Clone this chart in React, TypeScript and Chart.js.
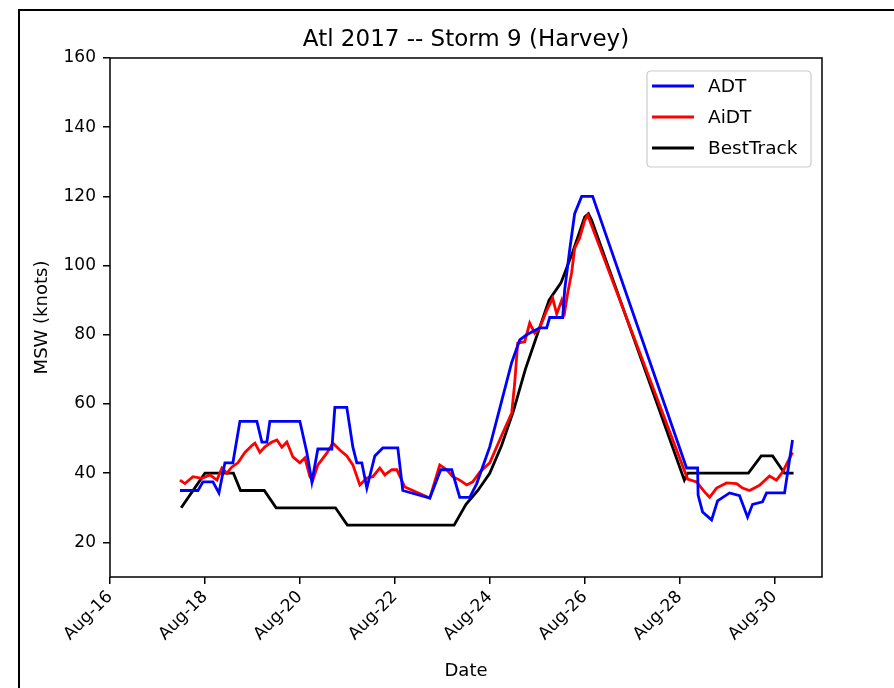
import React, { useEffect, useRef } from "react";
import { Chart, registerables } from "chart.js";

Chart.register(...registerables);

// x values are days since Aug-16 00Z
const xTickDays = [0, 2, 4, 6, 8, 10, 12, 14];
const yTickValues = [20, 40, 60, 80, 100, 120, 140, 160];
const seriesNames = ["ADT", "AiDT", "BestTrack"];

const adtDays = [1.474, 1.853, 1.958, 2.168, 2.295, 2.421, 2.589, 2.737, 3.095, 3.2, 3.305, 3.368, 4.0, 4.147, 4.253, 4.379, 4.674, 4.737, 4.989, 5.116, 5.2, 5.305, 5.411, 5.579, 5.747, 6.063, 6.168, 6.737, 6.968, 7.2, 7.368, 7.579, 7.726, 8.0, 8.463, 8.632, 8.779, 9.053, 9.2, 9.263, 9.537, 9.579, 9.684, 9.789, 9.937, 10.168, 12.147, 12.379, 12.39, 12.484, 12.674, 12.8, 13.053, 13.263, 13.432, 13.537, 13.747, 13.832, 14.211, 14.379];
const adtValues = [35, 35, 37.5, 37.5, 34.3, 43, 43, 55, 55, 49, 49, 55, 55, 46, 37.5, 47, 47, 59, 59, 47.6, 43, 43, 35.7, 45, 47.3, 47.3, 35, 32.8, 41, 41, 33, 33, 37, 47.6, 72, 78.5, 80, 82, 82, 85, 85, 93, 104.5, 115, 120, 120, 41.5, 41.5, 33.7, 28.8, 26.5, 32, 34.3, 33.5, 27.3, 31, 31.7, 34.3, 34.3, 49.6];

const aidtDays = [1.474, 1.579, 1.747, 1.937, 2.105, 2.253, 2.358, 2.463, 2.568, 2.695, 2.842, 2.989, 3.053, 3.158, 3.263, 3.411, 3.516, 3.621, 3.726, 3.853, 4.0, 4.105, 4.211, 4.274, 4.379, 4.568, 4.695, 4.842, 4.989, 5.116, 5.263, 5.411, 5.537, 5.684, 5.789, 5.937, 6.042, 6.211, 6.379, 6.737, 6.947, 7.095, 7.221, 7.368, 7.516, 7.642, 7.789, 8.0, 8.274, 8.463, 8.526, 8.589, 8.737, 8.842, 8.947, 9.053, 9.2, 9.326, 9.411, 9.516, 9.579, 9.642, 9.726, 9.789, 9.895, 10.0, 10.063, 12.168, 12.358, 12.526, 12.632, 12.779, 12.989, 13.2, 13.326, 13.474, 13.684, 13.895, 14.042, 14.168, 14.379];
const aidtValues = [38, 37, 39, 38.5, 39.5, 38, 41.5, 40, 41.8, 43, 46, 48, 48.7, 46, 47.6, 49, 49.6, 47.5, 49, 44.7, 43, 44.4, 39, 38, 42.4, 45.8, 48.7, 46.7, 45, 42.4, 36.6, 38.6, 39, 41.5, 39.5, 41, 41, 36, 35, 32.8, 42.4, 41, 39, 38, 36.6, 37.5, 40.3, 43, 51.6, 57.4, 66, 77.6, 78, 83.4, 80.5, 82, 87, 90.6, 86, 90, 86.6, 92, 98, 105, 108, 113, 114.6, 38.3, 37.5, 34.6, 33, 35.7, 37.2, 37, 35.7, 35, 36.5, 39.2, 38, 40.3, 46];

const bestDays = [1.5, 2.0, 2.6, 2.75, 3.25, 3.5, 4.75, 5.0, 7.25, 7.5, 7.75, 8.0, 8.25, 8.5, 8.75, 9.0, 9.25, 9.5, 9.75, 10.0, 10.08, 10.15, 12.1, 12.17, 13.45, 13.72, 13.96, 14.21, 14.4];
const bestValues = [30, 40, 40, 35, 35, 30, 30, 25, 25, 31, 35, 40, 48, 58, 70, 80, 90, 95, 104, 114, 115, 113, 38, 40, 40, 45, 45, 40, 40];

const seriesColors = ["#0000ff", "#ff0000", "#000000"];

const toPoints = (xs: number[], ys: number[]) => xs.map((x, i) => ({ x, y: ys[i] }));

const FONT = "'DejaVu Sans', sans-serif";

const decorPlugin = {
  id: "decor",
  afterDraw(chart: any) {
    const { ctx, chartArea } = chart;
    const { left, right, top, bottom } = chartArea;
    ctx.save();
    // axes box
    ctx.strokeStyle = "#000";
    ctx.lineWidth = 1.5;
    ctx.strokeRect(left, top, right - left, bottom - top);
    // title
    ctx.fillStyle = "#000";
    ctx.font = `23px ${FONT}`;
    ctx.textAlign = "center";
    ctx.textBaseline = "middle";
    ctx.fillText("Atl 2017 -- Storm 9 (Harvey)", (left + right) / 2, 40);
    // axis labels
    ctx.font = `18px ${FONT}`;
    ctx.fillText("Date", (left + right) / 2, 671);
    ctx.save();
    ctx.translate(42, (top + bottom) / 2);
    ctx.rotate(-Math.PI / 2);
    ctx.fillText("MSW (knots)", 0, 0);
    ctx.restore();
    // legend
    const bx = 647, by = 71, bw = 164, bh = 96, r = 4;
    ctx.beginPath();
    ctx.moveTo(bx + r, by);
    ctx.lineTo(bx + bw - r, by);
    ctx.quadraticCurveTo(bx + bw, by, bx + bw, by + r);
    ctx.lineTo(bx + bw, by + bh - r);
    ctx.quadraticCurveTo(bx + bw, by + bh, bx + bw - r, by + bh);
    ctx.lineTo(bx + r, by + bh);
    ctx.quadraticCurveTo(bx, by + bh, bx, by + bh - r);
    ctx.lineTo(bx, by + r);
    ctx.quadraticCurveTo(bx, by, bx + r, by);
    ctx.closePath();
    ctx.fillStyle = "rgba(255,255,255,0.85)";
    ctx.fill();
    ctx.strokeStyle = "#cccccc";
    ctx.lineWidth = 1.2;
    ctx.stroke();
    ctx.font = `18.5px ${FONT}`;
    ctx.textAlign = "left";
    chart.data.datasets.forEach((ds: any, i: number) => {
      const y = 86 + i * 31;
      ctx.strokeStyle = ds.borderColor;
      ctx.lineWidth = 3;
      ctx.beginPath();
      ctx.moveTo(652, y);
      ctx.lineTo(694, y);
      ctx.stroke();
      ctx.fillStyle = "#000";
      ctx.fillText(ds.label, 708, y + 1);
    });
    ctx.restore();
  },
};

export default function App() {
  const canvasRef = useRef<HTMLCanvasElement | null>(null);

  useEffect(() => {
    if (!canvasRef.current) return;
    const seriesData = [
      toPoints(adtDays, adtValues),
      toPoints(aidtDays, aidtValues),
      toPoints(bestDays, bestValues),
    ];
    const chart = new Chart(canvasRef.current, {
      type: "line",
      data: {
        datasets: seriesNames.map((name, i) => ({
          label: name,
          data: seriesData[i],
          borderColor: seriesColors[i],
          backgroundColor: seriesColors[i],
          borderWidth: 2.8,
          pointRadius: 0,
          tension: 0,
          fill: false,
        })),
      },
      options: {
        animation: false,
        responsive: false,
        devicePixelRatio: 1,
        layout: { padding: { left: 0, right: 72, top: 58, bottom: 0 } },
        plugins: {
          legend: { display: false },
          title: { display: false },
          tooltip: { enabled: false },
        },
        scales: {
          x: {
            type: "linear",
            min: 0,
            max: 15,
            afterBuildTicks: (axis: any) => {
              axis.ticks = xTickDays.map((v) => ({ value: v }));
            },
            afterFit: (axis: any) => {
              axis.height = 111;
            },
            ticks: {
              autoSkip: false,
              minRotation: 45,
              maxRotation: 45,
              padding: 3,
              color: "#000",
              font: { family: FONT, size: 17 },
              callback: (v: any) => "Aug-" + (16 + Number(v)),
            },
            grid: { drawOnChartArea: false, drawTicks: true, tickLength: 7, lineWidth: 1.5, color: "#000" },
            border: { display: false },
          },
          y: {
            type: "linear",
            min: 10,
            max: 160,
            afterBuildTicks: (axis: any) => {
              axis.ticks = yTickValues.map((v) => ({ value: v }));
            },
            afterFit: (axis: any) => {
              axis.width = 110;
            },
            ticks: {
              padding: 7,
              color: "#000",
              font: { family: FONT, size: 17 },
            },
            grid: { drawOnChartArea: false, drawTicks: true, tickLength: 7, lineWidth: 1.5, color: "#000" },
            border: { display: false },
          },
        },
      },
      plugins: [decorPlugin],
    });
    return () => chart.destroy();
  }, []);

  return (
    <div style={{ position: "fixed", left: 0, top: 0, width: 894, height: 688, background: "#fff", overflow: "hidden" }}>
      <div
        style={{
          position: "absolute",
          left: 18,
          top: 9,
          width: 900,
          height: 700,
          borderTop: "2px solid #000",
          borderLeft: "2px solid #000",
        }}
      />
      <canvas
        ref={canvasRef}
        width={894}
        height={688}
        style={{ position: "absolute", left: 0, top: 0, width: 894, height: 688 }}
      />
    </div>
  );
}
